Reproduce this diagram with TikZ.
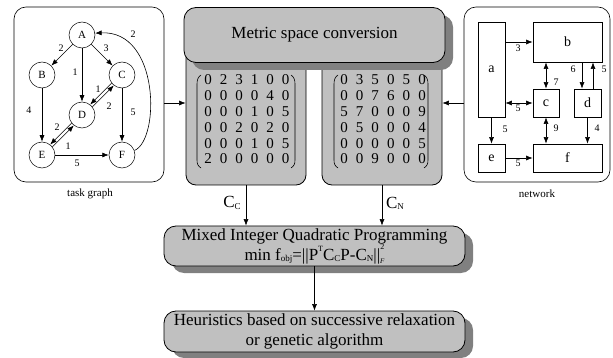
\documentclass[tikz,border=0pt]{standalone}
\usepackage{fontspec}
\setmainfont{Liberation Serif}
\usetikzlibrary{arrows.meta,calc}
\definecolor{boxgray}{RGB}{192,192,192}
\definecolor{shadowgray}{RGB}{128,128,128}
\newcommand\lowsub[1]{\raisebox{-0.15ex}{\fontsize{9}{9}\selectfont #1}}
\newcommand\hisup[1]{\raisebox{1.1ex}{\fontsize{8}{8}\selectfont #1}}
\newcommand\normF{\raisebox{-0.4ex}{\fontsize{7}{7}\selectfont\itshape F}\llap{\raisebox{1.3ex}{\fontsize{8}{8}\selectfont 2}}}
\begin{document}
\begin{tikzpicture}[x=1pt,y=-1pt,
  arr/.style={-{Latex[length=6.5pt,width=5pt]}, line width=0.6pt},
  darr/.style={{Latex[length=6.5pt,width=5pt]}-{Latex[length=6.5pt,width=5pt]}, line width=0.6pt},
  tnode/.style={circle, draw, line width=0.5pt, minimum size=26pt, inner sep=0pt, font=\fontsize{11}{11}\selectfont},
  elab/.style={font=\fontsize{10}{10}\selectfont, inner sep=0pt},
  nbox/.style={draw, line width=0.8pt, inner sep=0pt, font=\fontsize{14}{14}\selectfont},
  frame/.style={draw, line width=0.6pt, rounded corners=12pt, inner sep=0pt},
  gbox/.style={draw, line width=0.8pt, fill=boxgray, rounded corners=12pt, inner sep=0pt, align=center, font=\fontsize{17}{20}\selectfont},
  panel/.style={draw, line width=0.8pt, fill=boxgray, rounded corners=10pt, inner sep=0pt},
  dig/.style={inner sep=0pt, font=\fontsize{15}{15}\selectfont},
  captext/.style={font=\fontsize{11}{11}\selectfont, inner sep=0pt},
  clab/.style={font=\fontsize{17}{17}\selectfont, inner sep=0pt}
]
\useasboundingbox (0,0) rectangle (613,358);
\fill[white] (0,0) rectangle (613,358);

% ---------------- task graph ----------------
\node[frame, minimum width=150pt, minimum height=175pt] (tg) at (89,94.5) {};
\node[captext] (tgl) at (90,194) {task graph};
\node[tnode] (A) at (82,35) {A};
\node[tnode] (B) at (42,75) {B};
\node[tnode] (C) at (122,75) {C};
\node[tnode] (D) at (82,115) {D};
\node[tnode] (E) at (42,155) {E};
\node[tnode] (F) at (122,155) {F};
\draw[arr] (A) -- (B);
\draw[arr] (A) -- (D);
\draw[arr] (A) -- (C);
\draw[arr] (B) -- (E);
\draw[arr] (C) -- (F);
\draw[arr] (E) -- (F);
\draw[arr] (C.218) -- (D.52);
\draw[arr] (D.38) -- (C.232);
\draw[arr] (D.218) -- (E.52);
\draw[arr] (E.38) -- (D.232);
\draw[arr] (F.20) .. controls (160,140) and (160,30) .. (A.8);
\node[elab] (l1) at (61,48) {2};
\node[elab] (l2) at (75,72) {1};
\node[elab] (l3) at (106,48) {3};
\node[elab] (l4) at (29,110) {4};
\node[elab] (l5) at (98,89) {1};
\node[elab] (l6) at (109,106) {2};
\node[elab] (l7) at (57,127) {2};
\node[elab] (l8) at (68,146) {1};
\node[elab] (l9) at (133,112) {5};
\node[elab] (l10) at (77,163) {5};
\node[elab] (l11) at (133,34) {2};

% ---------------- network ----------------
\node[frame, minimum width=146pt, minimum height=175pt] (nw) at (537,94.5) {};
\node[captext] (nwl) at (537,194) {network};
\node[nbox, minimum width=27pt, minimum height=95pt] (a) at (491.5,69.5) {a};
\node[nbox, minimum width=69pt, minimum height=40pt] (b) at (567.5,42) {b};
\node[nbox, minimum width=26pt, minimum height=28pt] (c) at (546,103) {c};
\node[nbox, minimum width=27pt, minimum height=28pt] (d) at (587.5,103) {d};
\node[nbox, minimum width=27pt, minimum height=28pt] (e) at (491.5,158) {e};
\node[nbox, minimum width=69pt, minimum height=28pt] (f) at (567.5,158) {f};
\coordinate (d1) at ($(d.north)+(-5.5,0)$);
\coordinate (d2) at ($(d.north)+(5.5,0)$);
\draw[arr] (b.west -| a.east) -- (b.west);
\draw[darr] (c.west -| a.east) -- (c.west);
\draw[arr] (a.south) -- (e.north);
\draw[arr] (e.east) -- (f.west);
\draw[darr] (c.north |- b.south) -- (c.north);
\draw[arr] (d1 |- b.south) -- (d1);
\draw[arr] (d2) -- (d2 |- b.south);
\draw[darr] (c.south) -- (c.south |- f.north);
\draw[arr] (d.south) -- (d.south |- f.north);
\node[elab] (n3) at (518,48) {3};
\node[elab] (n5a) at (518,108) {5};
\node[elab] (n5b) at (505,129) {5};
\node[elab] (n5c) at (518,163) {5};
\node[elab] (n7) at (556,82) {7};
\node[elab] (n6) at (573,69) {6};
\node[elab] (n5d) at (604,69) {5};
\node[elab] (n9) at (556,128) {9};
\node[elab] (n4) at (597,128) {4};

% ---------------- matrix panels ----------------
\node[panel, minimum width=120pt, minimum height=140pt] (lp) at (246,115) {};
\node[panel, minimum width=120pt, minimum height=140pt] (rp) at (382,115) {};
\fill[shadowgray, rounded corners=12pt] (192,15) rectangle (453,70);
\node[gbox, minimum width=261pt, minimum height=55pt] (hd) at (314.5,35) {Metric space conversion};

\foreach \row [count=\r from 0] in {{0,2,3,1,0,0},{0,0,0,0,4,0},{0,0,0,1,0,5},{0,0,2,0,2,0},{0,0,0,1,0,5},{2,0,0,0,0,0}}{
  \foreach \v [count=\c from 0] in \row {
    \node[dig] (L-\r-\c) at (208+15.5*\c, 80+15.8*\r) {\v};
  }
}
\foreach \row [count=\r from 0] in {{0,3,5,0,5,0},{0,0,7,6,0,0},{5,7,0,0,0,9},{0,5,0,0,0,4},{0,0,0,0,0,5},{0,0,9,0,0,0}}{
  \foreach \v [count=\c from 0] in \row {
    \node[dig] (R-\r-\c) at (344+15.6*\c, 80+15.8*\r) {\v};
  }
}
\foreach \xl/\xr in {197/295, 334/428}{
  \draw[line width=0.6pt] (\xl+4,75) .. controls (\xl+1,77) and (\xl,80) .. (\xl,84) -- (\xl,160) .. controls (\xl,164) and (\xl+1,166) .. (\xl+4,168);
  \draw[line width=0.6pt] (\xr-4,75) .. controls (\xr-1,77) and (\xr,80) .. (\xr,84) -- (\xr,160) .. controls (\xr,164) and (\xr-1,166) .. (\xr-4,168);
}

% side arrows
\coordinate (m) at (0,103);
\draw[arr] (tg.east |- m) -- (lp.west |- m);
\draw[arr] (nw.west |- m) -- (rp.east |- m);

% ---------------- bottom boxes ----------------
\fill[shadowgray, rounded corners=12pt] (172,233) rectangle (473,273);
\node[gbox, minimum width=301pt, minimum height=40pt] (mq) at (314.5,246) {Mixed Integer Quadratic Programming\\min f\lowsub{obj}=||P\hisup{T}C\lowsub{C}P-C\lowsub{N}||\normF};
\fill[shadowgray, rounded corners=12pt] (172,318) rectangle (473,358);
\node[gbox, minimum width=301pt, minimum height=41pt] (hr) at (314.5,331.5) {Heuristics based on successive relaxation\\or genetic algorithm};

\draw[arr] (lp.south) -- (lp.south |- mq.north);
\draw[arr] (rp.south) -- (rp.south |- mq.north);
\draw[arr] (mq.south) -- (hr.north);
\node[clab] (cc) at (232,203) {C\lowsub{C}};
\node[clab] (cn) at (395,203) {C\lowsub{N}};
\end{tikzpicture}
\end{document}
